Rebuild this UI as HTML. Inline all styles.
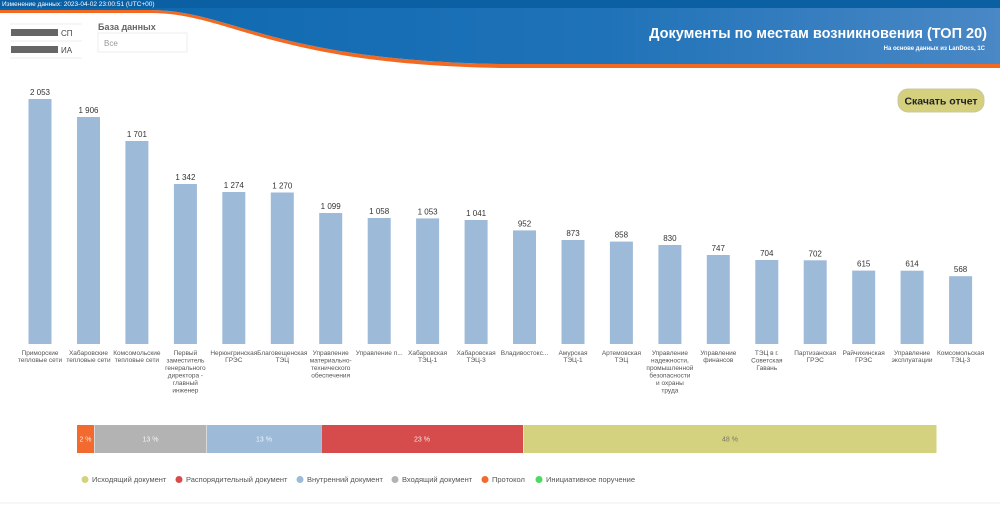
<!DOCTYPE html>
<html><head><meta charset="utf-8"><style>
html,body{margin:0;padding:0;background:#fff;}
svg{display:block;font-family:"Liberation Sans",Arial,sans-serif;}
</style></head><body>
<svg width="1000" height="505" viewBox="0 0 1000 505" xmlns="http://www.w3.org/2000/svg">
<defs>
<linearGradient id="g" x1="0" x2="1" y1="0" y2="0">
<stop offset="0" stop-color="#0a67ad"/><stop offset="0.6" stop-color="#1f72b8"/><stop offset="1" stop-color="#4a88c6"/>
</linearGradient>
</defs>
<path d="M0,10 L150,10 C230,10 270,60 500,64 L1000,64 L1000,68 L500,68 C270,64 230,13 150,13 L0,13 Z" fill="#f26a21"/>
<path d="M0,0 L1000,0 L1000,64 L500,64 C270,60 230,10 150,10 L0,10 Z" fill="url(#g)"/>
<rect x="0" y="0" width="1000" height="8" fill="#0b5fa3"/>
<text x="2" y="6" font-size="6.5" fill="#fff">Изменение данных: 2023-04-02 23:00:51 (UTC+00)</text>
<text x="987" y="38" font-size="14.5" font-weight="bold" fill="#fff" text-anchor="end">Документы по местам возникновения (ТОП 20)</text>
<text x="985" y="50" font-size="6" font-weight="bold" fill="#fff" text-anchor="end">На основе данных из LanDocs, 1С</text>
<line x1="10" y1="24" x2="82" y2="24" stroke="#eee"/>
<line x1="10" y1="41" x2="82" y2="41" stroke="#eee"/>
<line x1="10" y1="58" x2="82" y2="58" stroke="#eee"/>
<rect x="11" y="29" width="47" height="7" fill="#666"/>
<text x="61" y="36" font-size="8" fill="#444">СП</text>
<rect x="11" y="46" width="47" height="7" fill="#666"/>
<text x="61" y="53" font-size="8" fill="#444">ИА</text>
<text x="98" y="30" font-size="9" font-weight="bold" fill="#666">База данных</text>
<rect x="98" y="33" width="89" height="19" fill="#fff" stroke="#eee"/>
<text x="104" y="46" font-size="8" fill="#999">Все</text>
<rect x="898" y="89" width="86" height="23" rx="10" fill="#d4d07e" stroke="#c8c8a0"/>
<text x="941" y="104.5" font-size="10.5" font-weight="bold" fill="#222" text-anchor="middle">Скачать отчет</text>
<g fill="#9dbad8">
<rect x="28.5" y="99" width="23" height="245"/>
<rect x="77" y="117" width="23" height="227"/>
<rect x="125.4" y="141" width="23" height="203"/>
<rect x="173.9" y="184" width="23" height="160"/>
<rect x="222.3" y="192" width="23" height="152"/>
<rect x="270.8" y="192.5" width="23" height="151.5"/>
<rect x="319.2" y="213" width="23" height="131"/>
<rect x="367.7" y="218" width="23" height="126"/>
<rect x="416.1" y="218.4" width="23" height="125.6"/>
<rect x="464.6" y="220" width="23" height="124"/>
<rect x="513" y="230.4" width="23" height="113.6"/>
<rect x="561.5" y="240" width="23" height="104"/>
<rect x="609.9" y="241.6" width="23" height="102.4"/>
<rect x="658.4" y="245" width="23" height="99"/>
<rect x="706.8" y="255" width="23" height="89"/>
<rect x="755.3" y="260" width="23" height="84"/>
<rect x="803.7" y="260.3" width="23" height="83.7"/>
<rect x="852.2" y="270.6" width="23" height="73.4"/>
<rect x="900.6" y="270.7" width="23" height="73.3"/>
<rect x="949.1" y="276.2" width="23" height="67.8"/>
</g>
<g font-size="8" fill="#333" text-anchor="middle">
<text x="40" y="95">2 053</text><text x="88.5" y="113">1 906</text><text x="136.9" y="137">1 701</text>
<text x="185.4" y="180">1 342</text><text x="233.8" y="188">1 274</text><text x="282.3" y="188.5">1 270</text>
<text x="330.7" y="209">1 099</text><text x="379.2" y="214">1 058</text><text x="427.6" y="214.4">1 053</text>
<text x="476.1" y="216">1 041</text><text x="524.5" y="226.4">952</text><text x="573" y="236">873</text>
<text x="621.4" y="237.6">858</text><text x="669.9" y="241">830</text><text x="718.3" y="251">747</text>
<text x="766.8" y="256">704</text><text x="815.2" y="256.3">702</text><text x="863.7" y="266.6">615</text>
<text x="912.1" y="266.7">614</text><text x="960.6" y="272.2">568</text>
</g>
<g font-size="6.5" fill="#555" text-anchor="middle">
<text x="40" y="355">Приморские</text><text x="40" y="362">тепловые сети</text>
<text x="88.5" y="355">Хабаровские</text><text x="88.5" y="362">тепловые сети</text>
<text x="136.9" y="355">Комсомольские</text><text x="136.9" y="362">тепловые сети</text>
<text x="185.4" y="355">Первый</text><text x="185.4" y="362.5">заместитель</text><text x="185.4" y="370">генерального</text><text x="185.4" y="377.5">директора -</text><text x="185.4" y="385">главный</text><text x="185.4" y="392.5">инженер</text>
<text x="233.8" y="355">Нерюнгринская</text><text x="233.8" y="362">ГРЭС</text>
<text x="282.3" y="355">Благовещенская</text><text x="282.3" y="362">ТЭЦ</text>
<text x="330.7" y="355">Управление</text><text x="330.7" y="362.5">материально-</text><text x="330.7" y="370">технического</text><text x="330.7" y="377.5">обеспечения</text>
<text x="379.2" y="355">Управление п...</text>
<text x="427.6" y="355">Хабаровская</text><text x="427.6" y="362">ТЭЦ-1</text>
<text x="476.1" y="355">Хабаровская</text><text x="476.1" y="362">ТЭЦ-3</text>
<text x="524.5" y="355">Владивостокс...</text>
<text x="573" y="355">Амурская</text><text x="573" y="362">ТЭЦ-1</text>
<text x="621.4" y="355">Артемовская</text><text x="621.4" y="362">ТЭЦ</text>
<text x="669.9" y="355">Управление</text><text x="669.9" y="362.5">надежности,</text><text x="669.9" y="370">промышленной</text><text x="669.9" y="377.5">безопасности</text><text x="669.9" y="385">и охраны</text><text x="669.9" y="392.5">труда</text>
<text x="718.3" y="355">Управление</text><text x="718.3" y="362">финансов</text>
<text x="766.8" y="355">ТЭЦ в г.</text><text x="766.8" y="362.5">Советская</text><text x="766.8" y="370">Гавань</text>
<text x="815.2" y="355">Партизанская</text><text x="815.2" y="362">ГРЭС</text>
<text x="863.7" y="355">Райчихинская</text><text x="863.7" y="362">ГРЭС</text>
<text x="912.1" y="355">Управление</text><text x="912.1" y="362">эксплуатации</text>
<text x="960.6" y="355">Комсомольская</text><text x="960.6" y="362">ТЭЦ-3</text>
</g>
<rect x="77" y="425" width="17" height="28" fill="#f26a2e"/>
<rect x="94.5" y="425" width="112" height="28" fill="#b3b3b3"/>
<rect x="207" y="425" width="114" height="28" fill="#9dbad8"/>
<rect x="321.5" y="425" width="201.5" height="28" fill="#d64b4b"/>
<rect x="523.5" y="425" width="413" height="28" fill="#d5d27f"/>
<g font-size="7" fill="#fff" text-anchor="middle" opacity="0.85">
<text x="85.5" y="441.5">2 %</text><text x="150.5" y="441.5">13 %</text><text x="264" y="441.5">13 %</text>
<text x="422" y="441.5">23 %</text><text x="730" y="441.5" fill="#666">48 %</text>
</g>
<g font-size="7.5" fill="#555">
<circle cx="85" cy="479.5" r="3.5" fill="#d5d27f"/><text x="92" y="482">Исходящий документ</text>
<circle cx="179" cy="479.5" r="3.5" fill="#d64b4b"/><text x="186" y="482">Распорядительный документ</text>
<circle cx="300" cy="479.5" r="3.5" fill="#9dbad8"/><text x="307" y="482">Внутренний документ</text>
<circle cx="395" cy="479.5" r="3.5" fill="#b3b3b3"/><text x="402" y="482">Входящий документ</text>
<circle cx="485" cy="479.5" r="3.5" fill="#f26a2e"/><text x="492" y="482">Протокол</text>
<circle cx="539" cy="479.5" r="3.5" fill="#4cd964"/><text x="546" y="482">Инициативное поручение</text>
</g>
<line x1="0" y1="503" x2="1000" y2="503" stroke="#eee"/>
</svg>
</body></html>
